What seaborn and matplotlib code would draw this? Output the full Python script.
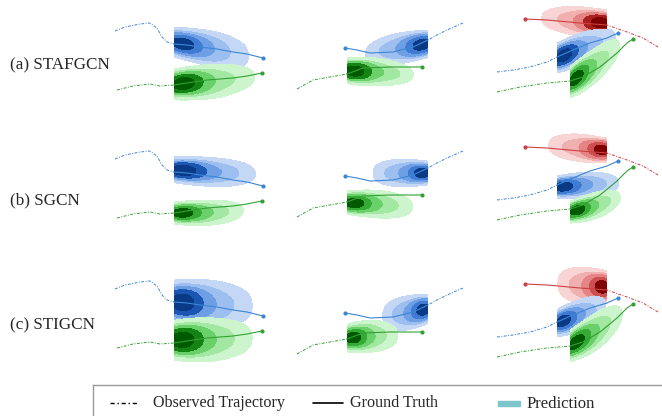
import matplotlib
matplotlib.use("Agg")
import pandas as pd
import matplotlib.pyplot as plt
from matplotlib.colors import ListedColormap
from matplotlib.patches import Rectangle
import seaborn as sns

sns.set_theme(style="white")
plt.rcParams["font.family"] = ["Liberation Serif", "DejaVu Serif"]

# ------------------------------
# trajectories, panel pixels (y down), same in every row
# ------------------------------
c1_blue_obs = [(15, 31), (25, 27), (40, 24), (50, 23), (57, 28), (62, 37), (67, 42), (74, 44)]
c1_blue_gt = [(74, 44), (87, 45), (100, 47), (117, 49), (133, 52), (147, 54), (163, 58)]
c1_green_obs = [(17, 90), (33, 86), (50, 84), (60, 86), (74, 85)]
c1_green_gt = [(74, 85), (87, 83), (107, 80), (133, 78), (147, 76), (162, 73)]

c2_blue_obs = [(183, 23), (167, 30), (157, 35), (148, 40)]
c2_blue_gt = [(148, 40), (133, 47), (113, 52), (90, 53), (77, 50), (65, 48)]
c2_green_obs = [(17, 89), (33, 80), (50, 77), (67, 74)]
c2_green_gt = [(67, 74), (83, 68), (110, 67), (142, 67)]

c3_red_obs = [(178, 47), (163, 38), (147, 32), (127, 25)]
c3_red_gt = [(127, 25), (100, 23), (67, 20), (45, 19)]
c3_blue_obs = [(17, 72), (33, 70), (50, 67), (67, 62), (77, 57)]
c3_blue_gt = [(77, 57), (93, 50), (110, 43), (127, 38), (138, 33)]
c3_green_obs = [(17, 92), (40, 87), (67, 83), (90, 81)]
c3_green_gt = [(90, 81), (103, 77), (120, 67), (137, 53), (147, 43), (153, 39)]

# ------------------------------
# predicted distributions: spine (x, y, half width)
# ------------------------------
a1_blue = [(78, 43, 6), (92, 45, 9), (108, 48, 11), (122, 51, 12), (138, 54, 10)]
a1_green = [(78, 84, 7), (92, 83, 9), (108, 82, 11), (125, 80, 11), (142, 78, 8)]
a2_blue = [(146, 44, 6), (135, 46, 8), (122, 48, 10), (108, 50, 10), (96, 52, 7)]
a2_green = [(70, 71, 6), (82, 71, 8), (96, 72, 9), (110, 73, 8), (122, 74, 6)]
a3_red = [(125, 23, 6), (113, 23, 8), (100, 21, 9), (86, 20, 9), (72, 19, 7)]
a3_blue = [(80, 57, 7), (90, 53, 9), (102, 48, 10), (114, 44, 9), (126, 40, 7)]
a3_green = [(93, 80, 7), (102, 75, 10), (112, 68, 11), (122, 60, 11), (132, 52, 8)]

b1_blue = [(78, 42, 6), (95, 43, 8), (112, 44, 9), (128, 45, 9), (142, 45, 7)]
b1_green = [(78, 85, 5), (92, 85, 7), (106, 85, 8), (120, 84, 8), (132, 83, 6)]
b2_blue = [(146, 45, 5), (136, 45, 7), (124, 45, 9), (112, 45, 9), (102, 45, 7)]
b2_green = [(70, 75, 5), (82, 75, 7), (96, 76, 9), (110, 77, 9), (122, 78, 7)]
b3_red = [(125, 22, 5), (117, 22, 7), (104, 20, 9), (90, 19, 9), (78, 18, 7)]
b3_blue = [(79, 59, 5), (92, 58, 7), (105, 57, 8), (118, 56, 8), (128, 56, 6)]
b3_green = [(94, 83, 5), (104, 81, 7), (114, 78, 9), (124, 75, 8), (132, 72, 6)]

c1_blue = [(77, 44, 10), (92, 45, 13), (108, 46, 15), (124, 47, 15), (140, 47, 12)]
c1_green = [(77, 82, 9), (92, 82, 12), (108, 82, 14), (124, 81, 13), (140, 80, 11)]
c2_blue = [(146, 44, 6), (138, 46, 9), (128, 48, 11), (118, 49, 11), (110, 50, 9)]
c2_green = [(70, 73, 6), (80, 72, 9), (90, 71, 10), (100, 71, 10), (110, 71, 8)]
c3_red = [(125, 22, 7), (117, 22, 10), (106, 21, 12), (95, 20, 12), (85, 19, 10)]
c3_blue = [(80, 57, 6), (90, 54, 9), (100, 50, 10), (110, 47, 10), (118, 44, 8)]
c3_green = [(93, 79, 7), (104, 74, 10), (114, 68, 12), (124, 61, 12), (134, 54, 9)]

SPINE_W = [5, 3, 2, 1.5, 1]
ROW_LABELS = ["(a) STAFGCN", "(b) SGCN", "(c) STIGCN"]

# layout in figure pixels
COL_X = [100, 280, 480]
COL_W = [180, 200, 182]
ROW_TOP = [[0, 0, 0], [128, 128, 128], [258, 265, 265]]
LABEL_Y = [65, 200, 325]
PANEL_H = 115

LINE_COL = {"blue": "#3b86d6", "green": "#33a033", "red": "#cc4040"}

# band colours, light -> dark
CMAPS = {
    "blue": ListedColormap(["#c4d8f6", "#9dbff0", "#6e9fe4", "#3f7bd3", "#1b56b0", "#0a3a86"]),
    "green": ListedColormap(["#cdf5cd", "#a2e8a2", "#6ad06a", "#35ab35", "#138413", "#005a00"]),
    "red": ListedColormap(["#f8d4d4", "#f0b0b0", "#e48484", "#cc5050", "#a82020", "#7e0000"]),
}

tracks = [
    [("blue", c1_blue_obs, c1_blue_gt), ("green", c1_green_obs, c1_green_gt)],
    [("blue", c2_blue_obs, c2_blue_gt), ("green", c2_green_obs, c2_green_gt)],
    [("red", c3_red_obs, c3_red_gt), ("blue", c3_blue_obs, c3_blue_gt), ("green", c3_green_obs, c3_green_gt)],
]
preds = [
    [[a1_blue, a1_green], [a2_blue, a2_green], [a3_red, a3_blue, a3_green]],
    [[b1_blue, b1_green], [b2_blue, b2_green], [b3_red, b3_blue, b3_green]],
    [[c1_blue, c1_green], [c2_blue, c2_green], [c3_red, c3_blue, c3_green]],
]


def cloud_frame(spine):
    # spread each spine point across its half width
    rows = []
    for (x, y, hw), w in zip(spine, SPINE_W):
        for off, f in zip([-1.2, -0.6, 0, 0.6, 1.2], [0.6, 0.9, 1, 0.9, 0.6]):
            rows.append((x, y + off * hw, w * f))
    return pd.DataFrame(rows, columns=["x", "y", "w"])


fig = plt.figure(figsize=(6.62, 4.16), dpi=100)

for r in range(3):
    for c in range(3):
        x0, w, y0 = COL_X[c], COL_W[c], ROW_TOP[r][c]
        ax = fig.add_axes([x0 / 662, 1 - (y0 + PANEL_H) / 416, w / 662, PANEL_H / 416])
        ax.patch.set_alpha(0)
        for (color, obs, gt), spine in zip(tracks[c], preds[r][c]):
            start_x = gt[0][0]
            if gt[-1][0] > start_x:
                clip = ((start_x, w), (0, PANEL_H))
            else:
                clip = ((0, start_x), (0, PANEL_H))
            sns.kdeplot(data=cloud_frame(spine), x="x", y="y", weights="w", fill=True,
                        levels=6, thresh=0.07, cmap=CMAPS[color], clip=clip,
                        bw_adjust=1.0, ax=ax, zorder=1)
            ox, oy = zip(*obs)
            gx, gy = zip(*gt)
            sns.lineplot(x=list(ox), y=list(oy), sort=False, estimator=None, ax=ax,
                         color=LINE_COL[color], lw=0.7, linestyle=(0, (3, 1.5, 1, 1.5)), zorder=3)
            sns.lineplot(x=list(gx), y=list(gy), sort=False, estimator=None, ax=ax,
                         color=LINE_COL[color], lw=0.8, zorder=3)
            ax.plot(gx[-1], gy[-1], marker="o", ms=2, color=LINE_COL[color], zorder=4)
        ax.set_xlim(0, w)
        ax.set_ylim(PANEL_H, 0)
        ax.set_axis_off()

for label, y in zip(ROW_LABELS, LABEL_Y):
    fig.text(10 / 662, 1 - y / 416, label, fontsize=12.3, va="center", ha="left")

# legend box (runs off the right and bottom edge)
lax = fig.add_axes([93 / 662, 1 - 440 / 416, 620 / 662, 55 / 416])
lax.set_xlim(93, 713)
lax.set_ylim(440, 385)
lax.set_xticks([])
lax.set_yticks([])
for sp in lax.spines.values():
    sp.set_edgecolor("#9a9a9a")
    sp.set_linewidth(1.0)
lax.plot([110, 137], [403, 403], color="black", lw=1, linestyle=(0, (3, 2, 1, 2)))
lax.text(153, 403, "Observed Trajectory", fontsize=11.6, va="center")
lax.plot([313, 343], [403, 403], color="black", lw=1.2)
lax.text(350, 403, "Ground Truth", fontsize=11.6, va="center")
lax.add_patch(Rectangle((498, 401), 22, 5, color="#7ec6ca"))
lax.text(527, 404, "Prediction", fontsize=12, va="center")

fig.savefig("out.png", dpi=100)
